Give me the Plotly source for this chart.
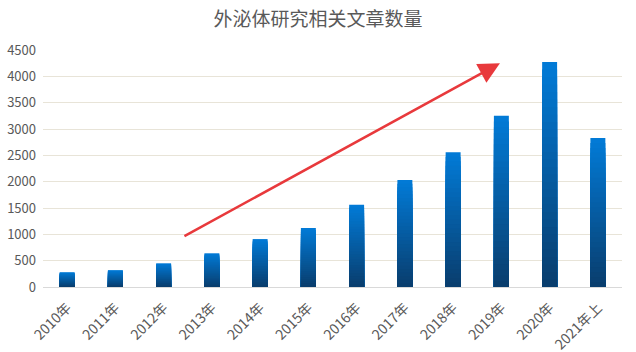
import plotly.graph_objects as go

categories = ["2010年", "2011年", "2012年", "2013年", "2014年", "2015年",
              "2016年", "2017年", "2018年", "2019年", "2020年", "2021年上"]
values = [280, 320, 450, 640, 910, 1120, 1560, 2030, 2560, 3250, 4270, 2830]
y_ticks = [0, 500, 1000, 1500, 2000, 2500, 3000, 3500, 4000, 4500]

# trend arrow endpoints (category index, value)
arrow_tail = (2.4, 950)
arrow_head = (8.97, 4250)

top_rgb = (2, 122, 214)
bottom_rgb = (9, 62, 110)
steps = 30

fig = go.Figure()
for k in range(steps):
    frac = 1 - k / steps
    t = k / (steps - 1)
    c = tuple(round(top_rgb[i] + (bottom_rgb[i] - top_rgb[i]) * t) for i in range(3))
    fig.add_trace(go.Bar(
        x=categories,
        y=[v * frac for v in values],
        marker=dict(color="rgb(%d,%d,%d)" % c, line=dict(width=0)),
        width=0.31,
        hoverinfo="skip" if k else None,
        showlegend=False,
    ))

fig.add_annotation(
    x=arrow_head[0], y=arrow_head[1], ax=arrow_tail[0], ay=arrow_tail[1],
    xref="x", yref="y", axref="x", ayref="y",
    showarrow=True, arrowhead=2, arrowsize=1.7, arrowwidth=2.5,
    arrowcolor="#e8393c", text="",
)

fig.update_layout(
    width=636, height=352,
    margin=dict(l=43, r=14, t=50, b=65),
    barmode="overlay",
    plot_bgcolor="white", paper_bgcolor="white",
    title=dict(text="外泌体研究相关文章数量", x=0.5, xanchor="center", y=0.945, yanchor="middle",
               font=dict(family="Noto Sans CJK SC", size=19, color="#595959")),
    font=dict(family="Noto Sans CJK SC", size=13, color="#595959"),
)
fig.update_xaxes(
    type="category", tickangle=-45, showgrid=False, automargin=False,
    showline=True, linecolor="#d9d9d9", linewidth=1,
    ticks="", ticklabelstandoff=6, tickfont=dict(size=14, color="#595959"),
    range=[-0.5, len(categories) - 0.5],
)
fig.update_yaxes(
    range=[0, 4500], tickvals=y_ticks, showgrid=True, gridcolor="#e8e4d8",
    zeroline=False, ticks="", ticklabelstandoff=6, automargin=False,
    tickfont=dict(size=13, color="#595959"),
)

fig.write_html("out.html")
